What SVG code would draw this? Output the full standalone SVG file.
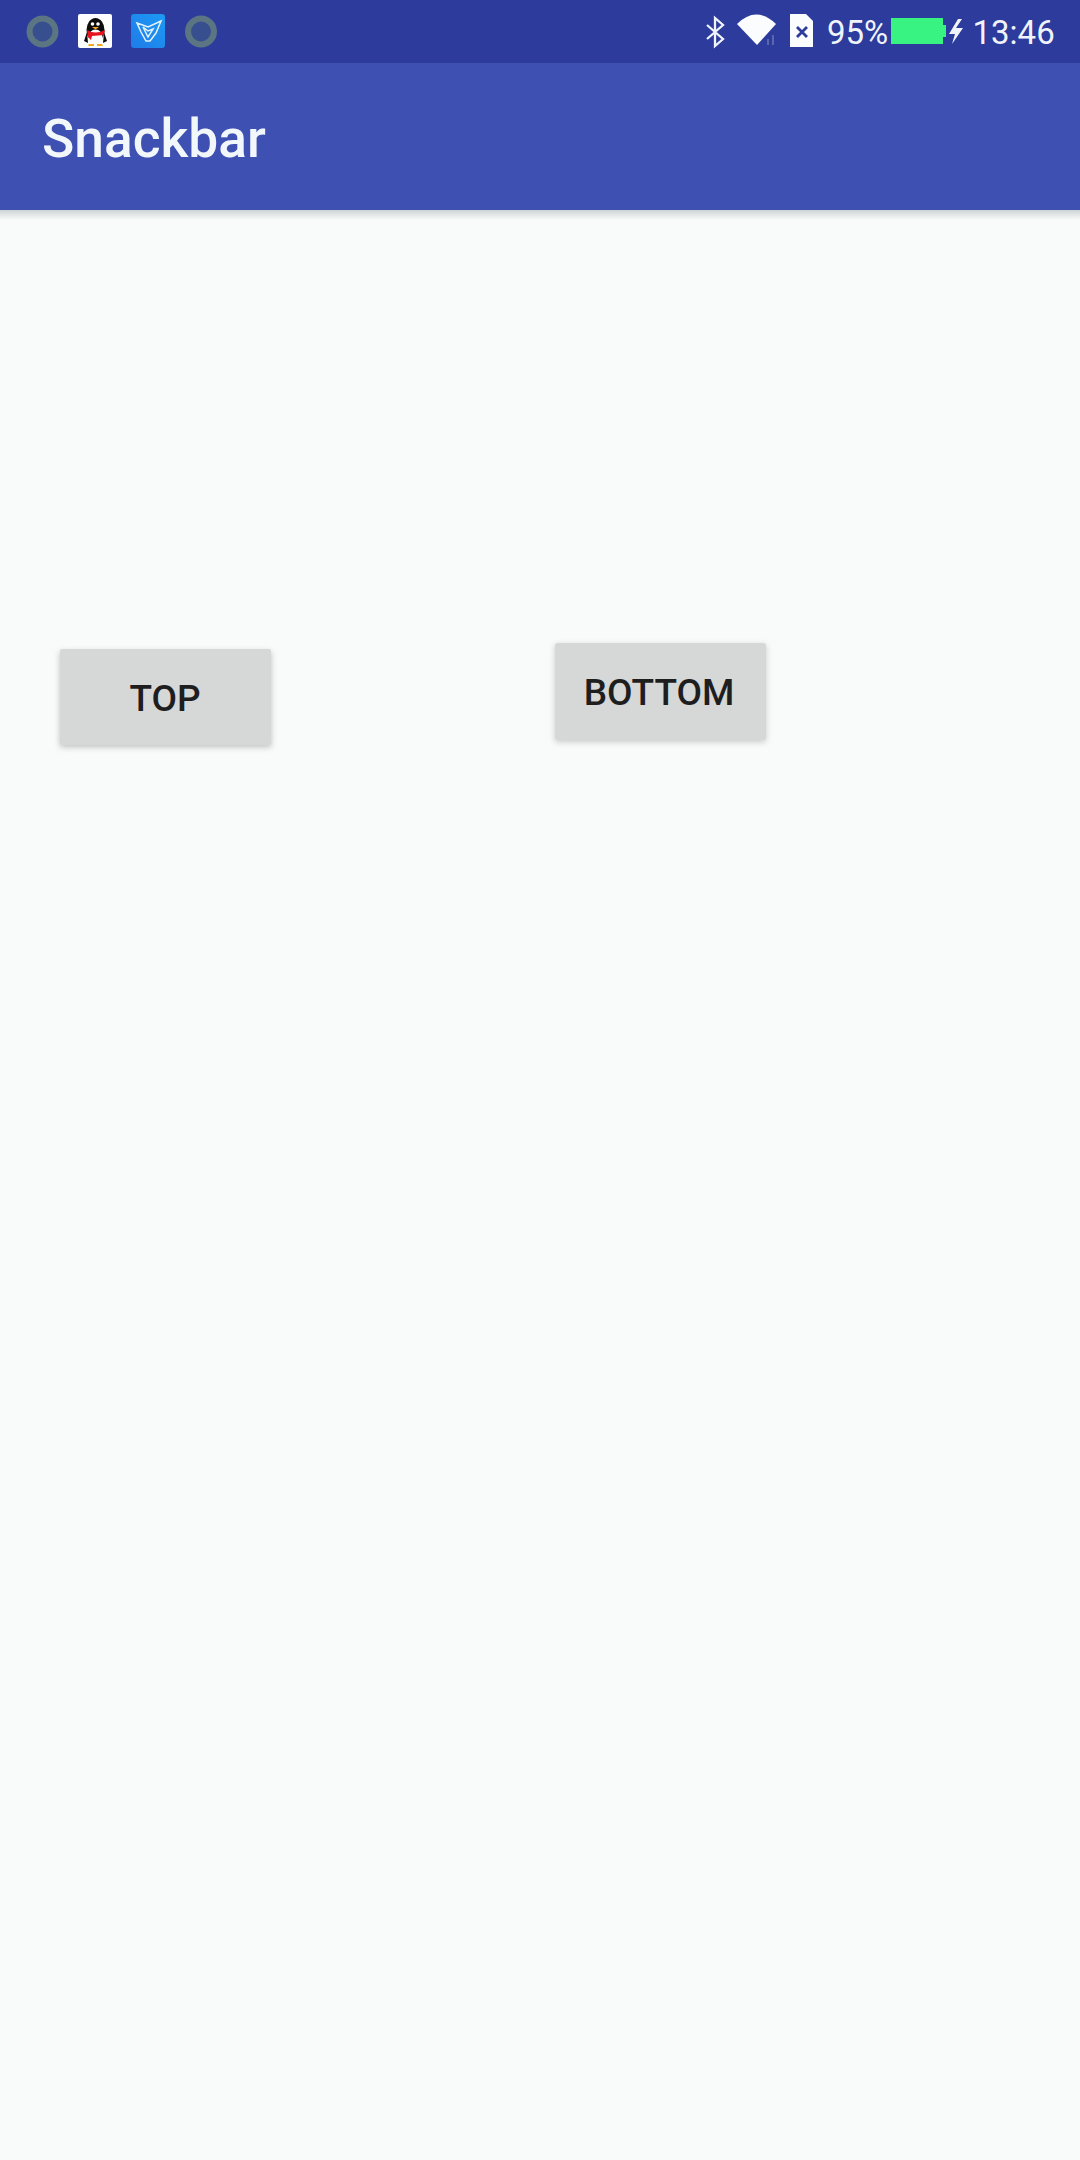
<svg xmlns="http://www.w3.org/2000/svg" width="1080" height="2160" viewBox="0 0 1080 2160">
<defs>
<style>
.r{font-family:Roboto,"Liberation Sans",sans-serif}
.s{fill:#f0f4fa;font-size:33px}
.b{fill:#1e1e1e;font-weight:500;font-size:37px;text-anchor:middle}
.ring{fill:#37508f;stroke:#5c7483;stroke-width:6}
.btn{fill:#d6d7d7}
</style>
<filter id="sh" x="-10%" y="-10%" width="120%" height="130%"><feGaussianBlur stdDeviation="3"/></filter>
<filter id="soft" x="-20%" y="-20%" width="140%" height="140%"><feGaussianBlur stdDeviation="0.700"/></filter>
<linearGradient id="ab" x1="0" y1="0" x2="0" y2="1"><stop offset="0" stop-color="#cdd4d4"/><stop offset="1" stop-color="#f9fbfa"/></linearGradient>
<linearGradient id="bl" x1="0" y1="1" x2="1" y2="0"><stop offset="0" stop-color="#1f7be8"/><stop offset="1" stop-color="#1c9af5"/></linearGradient>
</defs>
<rect width="1080" height="2160" fill="#f9fbfa"/>
<g id="appbar">
<rect y="210" width="1080" height="10" fill="url(#ab)"/>
<rect y="63" width="1080" height="147" fill="#3f50b3"/>
<text class="r" x="42" y="157" fill="#f2f7fc" font-size="53.300" font-weight="500">Snackbar</text>
</g>
<g id="statusbar">
<rect width="1080" height="63" fill="#2c3b9c"/>
<circle class="ring" cx="42.500" cy="31.500" r="13" filter="url(#soft)"/>
<circle class="ring" cx="201" cy="31.500" r="13" filter="url(#soft)"/>
<g id="qq">
<rect x="78" y="14" width="34" height="34" rx="2" fill="#fdfdfd"/>
<ellipse cx="95.500" cy="30" rx="9" ry="12" fill="#0c0c0c"/>
<ellipse cx="95.500" cy="37" rx="7" ry="7.500" fill="#fafafa"/>
<path d="M87 30Q95 35 105 30L104 35L92 36L91 40L88 37Z" fill="#e6141e"/>
<path d="M87 32L84 41L88 43ZM104 32L107 41L103 43Z" fill="#0c0c0c"/>
<path d="M89 44H94V46H88ZM97 44H102L103 46H97Z" fill="#f2a91c"/>
<circle cx="92.500" cy="24" r="1.800" fill="#fff"/><circle cx="98" cy="24" r="1.800" fill="#fff"/>
<path d="M92 27H99L95.500 29.500Z" fill="#f2a91c"/>
</g>
<g id="app2">
<rect x="131" y="14" width="34" height="34" rx="3" fill="url(#bl)"/>
<path d="M137 23L148 27L161 21L156 33L150 41L146 41L141 32ZM143 27L148 37L153 29L148 31Z" fill="none" stroke="#e4f2fc" stroke-width="1.500"/>
</g>
<path id="bluetooth" d="M707 25L723 39L715 46V18L723 25L707 39" fill="none" stroke="#f0f4fa" stroke-width="2.300"/>
<path id="wifi" d="M737 24Q756 5 776 24L757 45Z" fill="#fbfcfd"/>
<path d="M768 45V39M773 45V35" stroke="#5a67ad" stroke-width="2" fill="none"/>
<g id="sim">
<path d="M790 14H806L813 21V47H790Z" fill="#fbfcfd"/>
<path d="M797 27L807 37M807 27L797 37" stroke="#2c3b9c" stroke-width="2.800"/>
</g>
<text class="r s" x="827" y="43.500">95%</text>
<g id="battery">
<rect x="891" y="18" width="52" height="26" fill="#38f282"/>
<rect x="943" y="25" width="3" height="12" fill="#38f282"/>
</g>
<path id="bolt" d="M958 19L949 34H955L952 44L963 28H956L962 19Z" fill="#f0f4fa"/>
<text class="r s" x="972.500" y="43.500">13:46</text>
</g>
<g id="top">
<rect x="60" y="652" width="211" height="95" fill="#bdbdbd" filter="url(#sh)"/>
<rect class="btn" x="60" y="649" width="211" height="96" rx="2"/>
<text class="r b" x="165" y="711">TOP</text>
</g>
<g id="bottom">
<rect x="555" y="645" width="211" height="97" fill="#c8c8c8" filter="url(#sh)"/>
<rect class="btn" x="555" y="643" width="211" height="97" rx="3"/>
<text class="r b" x="659" y="705" font-size="36.500">BOTTOM</text>
</g>
<g id="connectors"/>
</svg>
